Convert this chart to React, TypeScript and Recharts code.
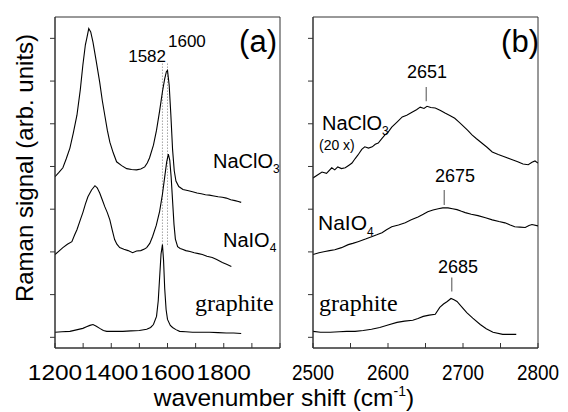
import React from "react";
import { LineChart, Line, XAxis, YAxis, ReferenceLine, ReferenceArea } from "recharts";

// panel (a): D and G band region
const naclo3A_x = [1200, 1214, 1228, 1240, 1253, 1265, 1278, 1290, 1299, 1308, 1313, 1320, 1327, 1335, 1347, 1359, 1368, 1377, 1386, 1395, 1407, 1419, 1437, 1455, 1472, 1490, 1505, 1519, 1528, 1536, 1550, 1561, 1572, 1582, 1590, 1596, 1600, 1606, 1612, 1618, 1624, 1630, 1640, 1655, 1675, 1689, 1705, 1720, 1735, 1749, 1765, 1780, 1795, 1809, 1825, 1840, 1852, 1862];
const naclo3A_y = [3.76, 3.86, 3.97, 4.18, 4.43, 4.78, 5.2, 5.8, 6.37, 6.85, 7.0, 7.23, 7.15, 6.91, 6.45, 5.97, 5.55, 5.2, 4.85, 4.57, 4.32, 4.11, 4.02, 3.95, 3.93, 3.92, 3.94, 3.99, 4.08, 4.2, 4.5, 4.85, 5.3, 5.75, 6.05, 6.22, 6.25, 5.9, 5.2, 4.4, 3.9, 3.66, 3.53, 3.46, 3.43, 3.41, 3.38, 3.36, 3.34, 3.33, 3.31, 3.29, 3.28, 3.26, 3.22, 3.2, 3.18, 3.16];

const naio4A_x = [1200, 1214, 1228, 1244, 1260, 1270, 1278, 1290, 1299, 1308, 1317, 1330, 1342, 1350, 1359, 1368, 1377, 1386, 1395, 1404, 1412, 1420, 1430, 1445, 1460, 1476, 1490, 1505, 1518, 1526, 1537, 1547, 1560, 1572, 1582, 1590, 1597, 1603, 1608, 1613, 1618, 1623, 1628, 1636, 1645, 1653, 1665, 1680, 1695, 1710, 1724, 1740, 1759, 1775, 1795, 1810, 1827];
const naio4A_y = [1.94, 2.02, 2.1, 2.18, 2.24, 2.4, 2.52, 2.75, 2.92, 3.12, 3.29, 3.45, 3.55, 3.5, 3.38, 3.22, 3.06, 2.92, 2.75, 2.5, 2.29, 2.18, 2.1, 2.06, 2.03, 1.98, 2.02, 2.03, 2.07, 2.1, 2.2, 2.36, 2.62, 2.95, 3.35, 3.75, 4.1, 4.29, 4.15, 3.75, 3.2, 2.65, 2.3, 2.12, 2.08, 2.06, 2.03, 2.01, 1.98, 1.96, 1.94, 1.9, 1.87, 1.82, 1.75, 1.71, 1.66];

const graphiteA_x = [1200, 1225, 1253, 1280, 1299, 1312, 1324, 1335, 1347, 1359, 1372, 1384, 1410, 1441, 1470, 1500, 1526, 1540, 1550, 1561, 1567, 1572, 1577, 1582, 1586, 1590, 1595, 1600, 1610, 1618, 1630, 1643, 1665, 1689, 1720, 1749, 1780, 1809, 1835, 1862];
const graphiteA_y = [0.12, 0.13, 0.14, 0.18, 0.21, 0.25, 0.28, 0.3, 0.26, 0.21, 0.16, 0.14, 0.14, 0.14, 0.15, 0.16, 0.19, 0.23, 0.3, 0.49, 0.85, 1.4, 1.95, 2.17, 1.8, 1.15, 0.65, 0.42, 0.28, 0.23, 0.18, 0.14, 0.13, 0.12, 0.12, 0.12, 0.11, 0.1, 0.1, 0.09];

// panel (b): 2D band region
const naclo3B_x = [2500, 2506, 2512, 2518, 2525, 2529, 2533, 2538, 2543, 2548, 2552, 2556, 2560, 2565, 2569, 2574, 2579, 2583, 2587, 2592, 2596, 2600, 2605, 2612, 2619, 2625, 2632, 2638, 2643, 2648, 2652, 2657, 2663, 2670, 2676, 2683, 2689, 2694, 2699, 2706, 2712, 2718, 2725, 2732, 2739, 2747, 2756, 2764, 2773, 2780, 2787, 2792, 2796, 2800];
const naclo3B_y = [3.73, 3.8, 3.87, 3.84, 3.97, 3.92, 3.99, 3.95, 3.97, 4.03, 4.08, 4.18, 4.27, 4.4, 4.46, 4.43, 4.46, 4.52, 4.55, 4.66, 4.74, 4.8, 4.92, 5.04, 5.16, 5.2, 5.27, 5.33, 5.39, 5.36, 5.41, 5.38, 5.37, 5.31, 5.25, 5.19, 5.13, 5.05, 4.97, 4.85, 4.74, 4.65, 4.55, 4.45, 4.34, 4.28, 4.22, 4.17, 4.11, 4.06, 4.04, 4.1, 4.13, 4.08];

const naio4B_x = [2500, 2508, 2516, 2522, 2529, 2538, 2547, 2553, 2560, 2570, 2579, 2585, 2592, 2598, 2605, 2614, 2623, 2631, 2640, 2647, 2653, 2660, 2667, 2673, 2680, 2686, 2692, 2698, 2703, 2711, 2720, 2730, 2739, 2748, 2756, 2763, 2769, 2776, 2783, 2788, 2792, 2800];
const naio4B_y = [1.94, 1.98, 2.01, 2.03, 2.05, 2.1, 2.17, 2.2, 2.24, 2.3, 2.36, 2.4, 2.45, 2.52, 2.59, 2.63, 2.68, 2.75, 2.82, 2.88, 2.94, 2.98, 3.01, 3.03, 3.03, 3.01, 2.99, 2.95, 2.92, 2.88, 2.85, 2.8, 2.75, 2.71, 2.68, 2.63, 2.59, 2.58, 2.57, 2.62, 2.64, 2.61];

const graphiteB_x = [2500, 2510, 2523, 2535, 2545, 2556, 2567, 2578, 2589, 2600, 2612, 2622, 2633, 2640, 2647, 2655, 2663, 2669, 2674, 2679, 2684, 2688, 2692, 2698, 2705, 2713, 2723, 2731, 2740, 2753, 2771];
const graphiteB_y = [0.14, 0.12, 0.12, 0.13, 0.14, 0.14, 0.16, 0.19, 0.23, 0.29, 0.35, 0.38, 0.4, 0.44, 0.49, 0.52, 0.54, 0.7, 0.78, 0.84, 0.91, 0.88, 0.84, 0.72, 0.58, 0.45, 0.3, 0.2, 0.12, 0.07, 0.07];

// peak positions (cm-1) and the y span of their marker lines
const peaksA = [1582, 1600];
const peakLineA = [2.17, 6.45];
const peaksB = [2651, 2675, 2685];
const peakMarksB = [[5.53, 5.86], [3.1, 3.45], [1.07, 1.4]];

const ticksA = [1200, 1300, 1400, 1500, 1600, 1700, 1800, 1900, 2000];
const labelsA = [1200, 1400, 1600, 1800];
const ticksB = [2500, 2550, 2600, 2650, 2700, 2750, 2800];
const labelsB = [2500, 2600, 2700, 2800];
const yTicks = [0, 1, 2, 3, 4, 5, 6, 7];
const yDomain: [number, number] = [-0.25, 7.5];

const zip = (xs: number[], ys: number[]) => xs.map((x, i) => ({ x, y: ys[i] }));

const SANS = "'Liberation Sans', Arial, sans-serif";
const SERIF = "'Liberation Serif', 'Times New Roman', serif";
const AXIS = "#333";
const PLOT_BOTTOM = 348;

// the two panels were stretched differently in the original figure, hence the x-scale
const makeXTick = (labels: number[], sx: number) => (props: any) => {
  const { x, payload } = props;
  const v = payload.value;
  return (
    <g>
      <line x1={x} x2={x} y1={PLOT_BOTTOM} y2={PLOT_BOTTOM - 5} stroke={AXIS} />
      {labels.includes(v) && (
        <text transform={`translate(${x},380) scale(${sx},1)`} textAnchor="middle" fontSize={22}
          fontFamily={SANS} fill="#000">
          {v}
        </text>
      )}
    </g>
  );
};

const emptyTick = () => <g />;

const spectrum = (data: { x: number; y: number }[], key: string) => (
  <Line key={key} data={data} dataKey="y" type="linear" dot={false} stroke="#000"
    strokeWidth={1.1} isAnimationActive={false} />
);

export default function App() {
  return (
    <div style={{ position: "absolute", left: 0, top: 0, width: 568, height: 412, background: "#fff" }}>
      <div style={{ position: "absolute", left: 0, top: 0 }}>
        <LineChart width={290} height={412} margin={{ top: 17, right: 10, bottom: 24, left: 50 }}>
          <XAxis type="number" dataKey="x" domain={[1200, 2000]} ticks={ticksA} interval={0}
            tick={makeXTick(labelsA, 1.11)} tickLine={false} height={40} stroke={AXIS} allowDataOverflow />
          <YAxis type="number" domain={yDomain} ticks={yTicks} interval={0} tick={emptyTick}
            tickSize={5} width={5} stroke={AXIS} allowDataOverflow />
          <ReferenceArea x1={1200} x2={2000} y1={yDomain[0]} y2={yDomain[1]} fill="none" stroke={AXIS} />
          {peaksA.map((p) => (
            <ReferenceLine key={p} segment={[{ x: p, y: peakLineA[0] }, { x: p, y: peakLineA[1] }]}
              stroke="#777" strokeDasharray="1 2" />
          ))}
          {spectrum(zip(naclo3A_x, naclo3A_y), "a1")}
          {spectrum(zip(naio4A_x, naio4A_y), "a2")}
          {spectrum(zip(graphiteA_x, graphiteA_y), "a3")}
        </LineChart>
      </div>
      <div style={{ position: "absolute", left: 290, top: 0 }}>
        <LineChart width={278} height={412} margin={{ top: 17, right: 30, bottom: 24, left: 18 }}>
          <XAxis type="number" dataKey="x" domain={[2500, 2800]} ticks={ticksB} interval={0}
            tick={makeXTick(labelsB, 0.86)} tickLine={false} height={40} stroke={AXIS} allowDataOverflow />
          <YAxis type="number" domain={yDomain} ticks={yTicks} interval={0} tick={emptyTick}
            tickSize={5} width={5} stroke={AXIS} allowDataOverflow />
          <ReferenceArea x1={2500} x2={2800} y1={yDomain[0]} y2={yDomain[1]} fill="none" stroke={AXIS} />
          {peaksB.map((p, i) => (
            <ReferenceLine key={p} segment={[{ x: p, y: peakMarksB[i][0] }, { x: p, y: peakMarksB[i][1] }]}
              stroke="#777" strokeWidth={1.3} />
          ))}
          {spectrum(zip(naclo3B_x, naclo3B_y), "b1")}
          {spectrum(zip(naio4B_x, naio4B_y), "b2")}
          {spectrum(zip(graphiteB_x, graphiteB_y), "b3")}
        </LineChart>
      </div>
      <svg width={568} height={412} style={{ position: "absolute", left: 0, top: 0, pointerEvents: "none" }}
        fontFamily={SANS} fill="#000">
        <text x={24} y={168} fontSize={24} textAnchor="middle" dominantBaseline="central"
          transform="rotate(-90 24 168)">Raman signal (arb. units)</text>
        <text x={284} y={406} fontSize={24.5} textAnchor="middle">
          wavenumber shift (cm<tspan fontSize={14} dy={-10}>-1</tspan><tspan dy={10}>)</tspan>
        </text>

        <text x={277} y={52} fontSize={31} textAnchor="end">(a)</text>
        <text x={539} y={52} fontSize={31} textAnchor="end">(b)</text>

        <text x={166} y={62} fontSize={17} textAnchor="end">1582</text>
        <text x={168} y={47} fontSize={17}>1600</text>
        <text x={427} y={78} fontSize={18} textAnchor="middle">2651</text>
        <text x={455} y={182} fontSize={18} textAnchor="middle">2675</text>
        <text x={458} y={273} fontSize={18} textAnchor="middle">2685</text>

        <text x={213} y={168} fontSize={20}>NaClO<tspan fontSize={12} dy={5}>3</tspan></text>
        <text x={223} y={247} fontSize={20}>NaIO<tspan fontSize={12} dy={5}>4</tspan></text>
        <text x={195} y={311} fontSize={24} fontFamily={SERIF}>graphite</text>

        <text x={322} y={130} fontSize={20}>NaClO<tspan fontSize={12} dy={5}>3</tspan></text>
        <text x={319} y={150} fontSize={14}>(20 x)</text>
        <text x={318} y={230} fontSize={21}>NaIO<tspan fontSize={12} dy={6}>4</tspan></text>
        <text x={319} y={311} fontSize={24} fontFamily={SERIF}>graphite</text>
      </svg>
    </div>
  );
}
